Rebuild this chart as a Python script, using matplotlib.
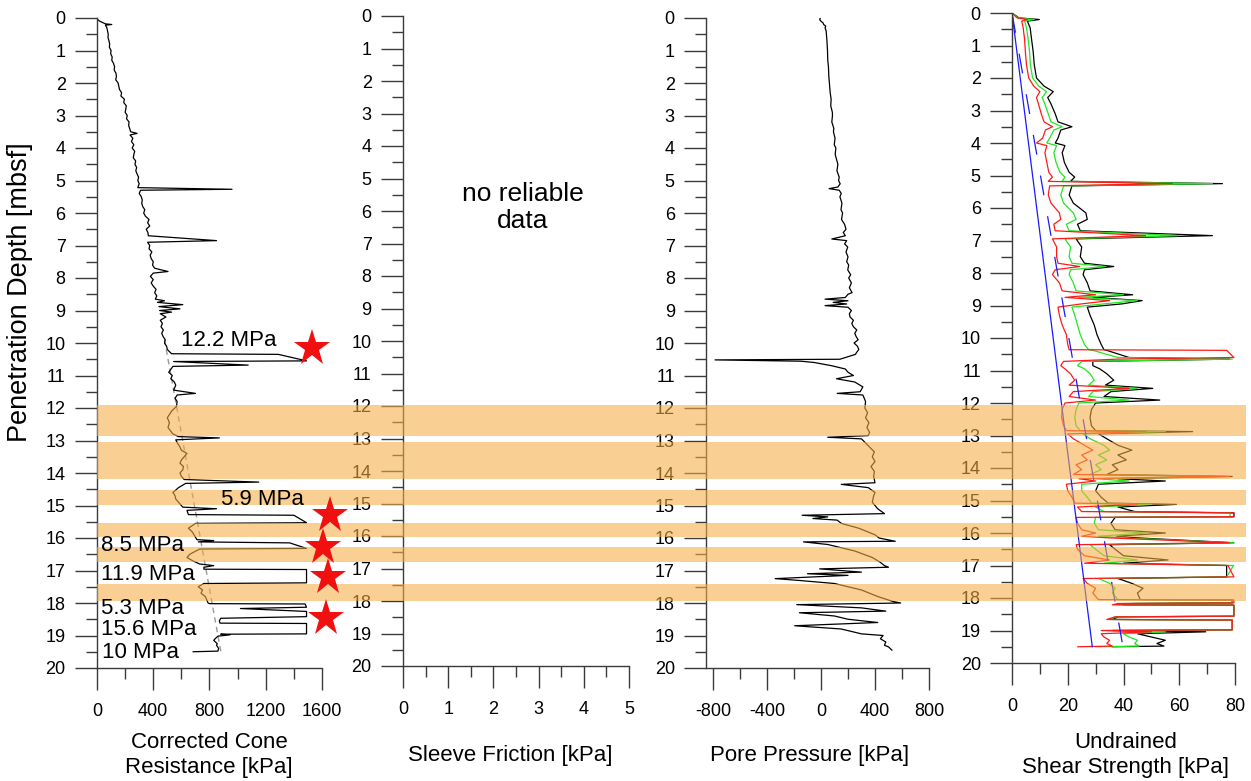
import matplotlib.pyplot as plt
import numpy as np
from matplotlib.patches import Rectangle
from matplotlib.lines import Line2D
from matplotlib.ticker import MultipleLocator
from matplotlib.transforms import blended_transform_factory

plt.rcParams['font.family'] = ['Liberation Sans', 'DejaVu Sans']
plt.rcParams['axes.unicode_minus'] = False

# ---- Corrected cone resistance (depth in m, qt in kPa) ----
qc_depth = [0.0, 0.05, 0.1, 0.15, 0.18, 0.2, 0.22, 0.3, 0.4, 0.5, 0.6, 0.7, 0.8, 0.9, 1.0, 1.1, 1.2,
            1.3, 1.4, 1.5, 1.6, 1.7, 1.8, 1.9, 2.0, 2.1, 2.2, 2.3, 2.4, 2.5, 2.6, 2.7, 2.8, 2.9, 3.0,
            3.1, 3.2, 3.3, 3.4, 3.5, 3.55, 3.6, 3.7, 3.8, 3.9, 4.0, 4.1, 4.2, 4.3, 4.4, 4.5, 4.6, 4.7,
            4.8, 4.9, 5.0, 5.1, 5.22, 5.27, 5.3, 5.4, 5.5, 5.6, 5.7, 5.8, 5.9, 6.0, 6.1, 6.2, 6.3, 6.4,
            6.5, 6.6, 6.7, 6.85, 6.9, 7.0, 7.1, 7.2, 7.3, 7.4, 7.5, 7.6, 7.7, 7.8, 7.85, 7.95, 8.05,
            8.15, 8.25, 8.35, 8.45, 8.55, 8.65, 8.7, 8.75, 8.82, 8.88, 8.95, 9.0, 9.05, 9.1, 9.2, 9.3,
            9.4, 9.5, 9.6, 9.7, 9.8, 9.9, 10.0, 10.1, 10.2, 10.33, 10.35, 10.55, 10.57, 10.68, 10.72,
            10.9, 11.0, 11.1, 11.2, 11.3, 11.45, 11.55, 11.6, 11.7, 11.8, 11.95, 12.1, 12.3, 12.45,
            12.6, 12.8, 12.88, 12.92, 12.98, 13.1, 13.2, 13.3, 13.4, 13.5, 13.6, 13.7, 13.8, 13.9,
            14.0, 14.1, 14.2, 14.28, 14.32, 14.45, 14.6, 14.7, 14.8, 14.95, 15.05, 15.1, 15.15, 15.28,
            15.3, 15.53, 15.55, 15.7, 15.8, 15.9, 16.05, 16.08, 16.12, 16.15, 16.32, 16.34, 16.5,
            16.6, 16.7, 16.8, 16.85, 16.9, 16.96, 16.97, 17.38, 17.4, 17.5, 17.6, 17.7, 17.8, 17.9,
            18.0, 18.02, 18.03, 18.13, 18.17, 18.26, 18.42, 18.47, 18.55, 18.62, 18.63, 18.95, 18.96,
            18.98, 19.02, 19.1, 19.15, 19.25, 19.3, 19.4, 19.48, 19.5]
qc_kpa = [0, 5, 20, 45, 60, 105, 60, 70, 75, 80, 78, 85, 90, 88, 100, 97, 108,
          105, 118, 125, 122, 135, 138, 133, 150, 155, 160, 175, 170, 195, 190, 208, 205, 200, 215,
          210, 228, 225, 232, 240, 285, 235, 255, 245, 262, 250, 268, 262, 258, 275, 270, 282, 276,
          285, 296, 290, 300, 290, 960, 310, 300, 315, 322, 318, 325, 340, 332, 345, 370, 360, 375,
          350, 362, 365, 850, 360, 375, 370, 390, 378, 385, 400, 395, 410, 505, 400, 380, 400,
          385, 400, 420, 410, 425, 415, 480, 430, 610, 440, 590, 445, 530, 450, 490, 450,
          465, 455, 472, 460, 470, 485, 480, 495, 500, 530, 1290, 12200, 545, 1075, 540,
          510, 535, 525, 550, 560, 545, 700, 570, 555, 570, 565, 530, 500, 515,
          505, 540, 580, 870, 560, 575, 590, 600, 640, 620, 600, 590, 615, 610,
          590, 600, 620, 1150, 630, 580, 540, 555, 560, 590, 610, 850, 640, 650,
          1400, 5900, 700, 650, 675, 690, 710, 830, 720, 1370, 8500, 730, 660,
          640, 680, 730, 830, 760, 760, 11900, 11900, 760, 720, 750, 740, 770, 780,
          790, 800, 1480, 5300, 1020, 5300, 5300, 880, 870, 875, 15600, 15600, 880,
          945, 860, 840, 830, 855, 850, 865, 860, 684]
QC_CAP = 1490  # off-scale peaks are cut at this value

qc_trend_depth = [9.9, 19.6]
qc_trend_kpa = [480, 885]

peak_depth = [10.15, 15.29, 16.28, 17.2, 18.46]
peak_qc = [1530, 1657, 1607, 1643, 1628]

label_text = ['12.2 MPa', '5.9 MPa', '8.5 MPa', '11.9 MPa', '5.3 MPa', '15.6 MPa', '10 MPa']
label_depth = [9.92, 14.83, 16.22, 17.11, 18.18, 18.83, 19.51]
label_qc = [600, 885, 25, 25, 25, 25, 35]

# ---- Pore pressure (kPa) ----
u_depth = [0.0, 0.05, 0.1, 0.15, 0.2, 0.25, 0.3, 0.4, 0.5, 0.7, 1.0, 1.3, 1.5, 1.8, 2.0, 2.3, 2.5,
           2.7, 2.9, 3.0, 3.2, 3.4, 3.5, 3.7, 3.9, 4.0, 4.2, 4.4, 4.5, 4.7, 4.9, 5.0, 5.1, 5.2, 5.25,
           5.3, 5.4, 5.5, 5.7, 5.9, 6.0, 6.2, 6.35, 6.5, 6.6, 6.7, 6.8, 6.85, 6.95, 7.05, 7.2, 7.35,
           7.5, 7.6, 7.75, 7.9, 8.0, 8.15, 8.3, 8.45, 8.5, 8.6, 8.65, 8.7, 8.75, 8.8, 8.85, 8.9, 9.0,
           9.1, 9.2, 9.3, 9.4, 9.5, 9.6, 9.7, 9.8, 9.9, 10.0, 10.1, 10.2, 10.3, 10.35, 10.45, 10.5,
           10.52, 10.56, 10.6, 10.7, 10.8, 10.9, 11.0, 11.1, 11.2, 11.35, 11.5, 11.55, 11.6, 11.8,
           12.0, 12.15, 12.3, 12.45, 12.6, 12.75, 12.85, 12.9, 12.95, 13.2, 13.35, 13.5, 13.65,
           13.8, 13.95, 14.1, 14.3, 14.35, 14.45, 14.6, 14.7, 14.9, 15.1, 15.25, 15.3, 15.35, 15.4,
           15.45, 15.55, 15.7, 15.9, 16.0, 16.1, 16.12, 16.2, 16.4, 16.6, 16.75, 16.85, 16.9, 16.95,
           17.05, 17.1, 17.15, 17.25, 17.3, 17.4, 17.6, 17.8, 17.95, 18.0, 18.05, 18.15, 18.25,
           18.3, 18.4, 18.5, 18.6, 18.7, 18.8, 18.9, 18.95, 19.0, 19.1, 19.2, 19.3, 19.35, 19.45]
u_kpa = [-5, -10, 0, 15, 20, 35, 30, 38, 40, 44, 48, 50, 55, 58, 62, 68, 75,
         72, 84, 85, 80, 95, 92, 104, 98, 110, 105, 118, 125, 118, 135, 130, 142, 125, 60,
         135, 150, 140, 155, 148, 160, 152, 175, 185, 165, 180, 80, 190, 175, 198, 185, 200,
         190, 205, 198, 220, 205, 225, 210, 230, 200, 180, 30, 200, 90, 190, 30, 200, 225,
         210, 215, 240, 228, 240, 265, 250, 260, 275, 245, 270, 280, 262, 255, 180, 140,
         -785, -150, -50, 80, 180, 200, 240, 115, 250, 310, 290, 120, 310, 330,
         325, 345, 330, 355, 340, 360, 350, 50, 300, 360, 395, 380, 400,
         370, 395, 390, 400, 150, 350, 400, 390, 380, 420, 470, -140, 50, -60,
         120, 150, 280, 400, 430, 550, -130, 50, 250, 380, 440, 470, 500, -10,
         300, -100, 200, -340, -180, 100, 300, 420, 530, 590, -180, 300, 480,
         -160, 100, 200, 420, -195, 150, 250, 300, 460, 440, 480, 470, 500, 525]

# ---- Undrained shear strength (kPa), three estimates ----
su_depth = [0.0, 0.15, 0.2, 0.25, 0.45, 0.8, 1.2, 1.6, 2.0, 2.25, 2.42, 2.6, 2.8, 3.1, 3.35, 3.5, 3.6,
            3.85, 4.0, 4.08, 4.3, 4.6, 4.9, 5.05, 5.18, 5.25, 5.32, 5.6, 5.85, 6.15, 6.35, 6.5, 6.7,
            6.85, 6.95, 7.2, 7.5, 7.7, 7.8, 7.9, 8.05, 8.3, 8.55, 8.67, 8.75, 8.85, 8.95, 9.05, 9.3,
            9.6, 9.9, 10.2, 10.36, 10.38, 10.6, 10.65, 10.72, 10.85, 10.95, 11.1, 11.3, 11.45, 11.55,
            11.65, 11.8, 11.91, 12.0, 12.2, 12.45, 12.7, 12.85, 12.88, 12.95, 13.1, 13.3, 13.45, 13.6,
            13.75, 13.9, 14.05, 14.2, 14.26, 14.33, 14.4, 14.5, 14.7, 14.9, 15.08, 15.12, 15.2, 15.34,
            15.38, 15.5, 15.52, 15.7, 15.9, 16.0, 16.1, 16.15, 16.3, 16.36, 16.5, 16.7, 16.83, 16.93,
            17.0, 17.35, 17.4, 17.55, 17.7, 17.85, 18.05, 18.06, 18.15, 18.17, 18.21, 18.22, 18.56,
            18.58, 18.66, 18.68, 18.98, 19.0, 19.04, 19.1, 19.2, 19.3, 19.4, 19.48, 19.5]
su_black = [0, 2.5, 9.8, 5.5, 6.5, 7.0, 7.6, 8.0, 8.8, 11.5, 14.8, 12.8, 14.0, 15.5, 16.5, 21.5, 17.5,
            16.5, 15.5, 19.0, 18.0, 18.8, 20.5, 22.5, 21.0, 75.5, 21.5, 20.5, 22.0, 26.5, 27.0, 23.5, 24.5,
            71.9, 23.0, 25.0, 24.5, 26.0, 36.5, 26.0, 25.5, 27.0, 28.0, 43.3, 29.0, 46.7, 39.5, 27.0, 28.0,
            29.5, 30.5, 32.0, 33.0, 34.0, 42.0, 78.0, 29.0, 29.0, 31.5, 34.0, 36.5, 33.5, 50.5,
            35.5, 33.0, 53.0, 30.0, 28.5, 28.0, 28.5, 30.0, 64.8, 31.0, 34.0, 38.0, 43.0, 38.0,
            41.0, 36.0, 38.0, 34.0, 79.0, 38.0, 55.0, 31.0, 30.0, 32.0, 34.5, 59.0, 38.0, 44.0,
            79.6, 79.6, 37.0, 35.5, 37.0, 55.0, 37.5, 45.0, 79.6, 35.0, 37.0, 40.0, 56.0, 40.0,
            77.0, 77.0, 38.0, 43.0, 47.0, 45.0, 46.0, 79.0, 79.0, 43.0, 40.0, 79.6, 79.6,
            38.0, 36.0, 79.0, 79.0, 36.0, 69.5, 45.0, 50.0, 55.0, 52.0, 54.5, 36.0]
su_green = [0, 2.2, 8.0, 4.5, 5.2, 5.8, 6.3, 6.6, 7.4, 9.6, 12.4, 10.8, 11.8, 13.0, 14.0, 18.0, 15.0,
            13.5, 12.5, 16.0, 15.0, 15.8, 17.2, 19.0, 18.0, 71.9, 18.5, 17.5, 18.5, 22.0, 23.0, 19.5, 20.5,
            59.8, 19.0, 21.0, 20.5, 21.5, 33.5, 21.0, 20.5, 22.0, 23.0, 40.0, 24.0, 45.0, 33.0, 21.5, 22.5,
            23.5, 24.5, 26.0, 27.5, 29.0, 38.0, 79.0, 25.0, 23.5, 26.0, 28.0, 29.5, 27.5, 45.0,
            29.0, 27.5, 42.0, 24.0, 23.0, 22.5, 23.0, 24.5, 55.0, 25.5, 28.0, 33.0, 35.0, 31.0,
            34.0, 30.0, 32.0, 28.0, 75.0, 30.0, 42.0, 25.0, 25.0, 27.0, 28.5, 50.0, 30.0, 33.0,
            78.5, 78.0, 30.0, 29.5, 31.0, 48.0, 31.0, 40.0, 79.6, 28.0, 30.0, 33.0, 45.0, 33.0,
            79.5, 77.0, 31.0, 35.0, 37.0, 36.0, 38.0, 79.0, 79.0, 40.0, 38.0, 79.6, 79.6,
            37.0, 35.0, 79.0, 79.0, 34.0, 55.0, 40.0, 42.0, 45.0, 44.0, 45.6, 30.0]
su_red = [0, 1.8, 5.5, 3.5, 4.0, 4.5, 4.8, 5.2, 6.0, 7.8, 10.0, 8.8, 9.5, 10.5, 11.5, 14.5, 12.0,
          11.0, 8.8, 12.5, 11.8, 12.5, 13.2, 14.5, 13.0, 57.5, 13.5, 13.0, 14.0, 17.0, 17.5, 15.0, 15.5,
          47.9, 14.5, 16.0, 16.0, 16.5, 24.3, 15.5, 14.5, 17.0, 18.0, 30.0, 19.0, 35.0, 25.0, 16.5, 17.0,
          18.0, 19.5, 20.0, 20.5, 77.0, 79.6, 38.0, 18.5, 17.5, 19.0, 21.0, 22.5, 20.5, 42.0,
          22.0, 20.5, 30.0, 19.0, 18.0, 17.8, 18.5, 19.5, 48.0, 20.0, 22.0, 26.0, 29.0, 25.0,
          27.0, 23.0, 25.0, 22.0, 78.0, 24.0, 30.0, 19.5, 20.0, 21.5, 22.5, 45.0, 23.5, 25.0,
          79.6, 79.6, 23.0, 23.5, 25.0, 30.0, 25.0, 35.0, 78.0, 23.0, 23.5, 26.0, 35.0, 26.0,
          77.5, 79.6, 25.5, 27.0, 30.0, 29.0, 31.0, 79.6, 79.6, 38.0, 36.0, 79.6, 79.6,
          37.0, 34.0, 79.0, 79.0, 32.0, 50.0, 32.0, 33.0, 35.0, 34.0, 36.0, 23.6]

# reference strength gradients
su_line_depth = [0.0, 19.5]
su_line_a = [0.0, 28.8]
su_line_b = [0.0, 39.8]

# depth intervals highlighted across all panels
band_top = [11.91, 13.04, 14.52, 15.53, 16.29, 17.43]
band_bot = [12.86, 14.20, 14.98, 15.96, 16.73, 17.93]

# ---- Figure ----
W, H = 1251, 781
fig = plt.figure(figsize=(W / 100, H / 100), dpi=100)


def panel(left, top, width, height=650):
    ax = fig.add_axes([left / W, 1 - (top + height) / H, width / W, height / H])
    ax.set_facecolor('none')
    for s in ['top', 'right']:
        ax.spines[s].set_visible(False)
    for s in ['left', 'bottom']:
        ax.spines[s].set_color('#3a3a3a')
        ax.spines[s].set_linewidth(1.0)
    ax.set_ylim(20, 0)
    ax.yaxis.set_major_locator(MultipleLocator(1))
    ax.yaxis.set_minor_locator(MultipleLocator(0.5))
    ax.tick_params(which='both', direction='out', color='#3a3a3a', width=1.0, labelsize=13)
    ax.tick_params(which='major', length=15.5)
    ax.tick_params(which='minor', length=8)
    ax.tick_params(axis='y', pad=7)
    ax.tick_params(axis='x', pad=10)
    return ax


ax1 = panel(97, 18, 225)
ax2 = panel(403, 16, 226)
ax3 = panel(706, 18, 223)
ax4 = panel(1012, 13, 223)

# cone resistance
ax1.set_xlim(0, 1600)
ax1.xaxis.set_major_locator(MultipleLocator(400))
ax1.xaxis.set_minor_locator(MultipleLocator(200))
ax1.plot(qc_trend_kpa, qc_trend_depth, color='#9a9a9a', lw=1.0, ls=(0, (4, 3)))
ax1.plot(np.minimum(qc_kpa, QC_CAP), qc_depth, color='black', lw=0.9)

# sleeve friction
ax2.set_xlim(0, 5)
ax2.xaxis.set_major_locator(MultipleLocator(1))
ax2.xaxis.set_minor_locator(MultipleLocator(0.5))
ax2.text(2.65, 5.9, 'no reliable\ndata', fontsize=19, ha='center', va='center', linespacing=1.15)

# pore pressure
ax3.set_xlim(-852, 800)
ax3.set_xticks([-800, -400, 0, 400, 800])
ax3.xaxis.set_minor_locator(MultipleLocator(200))
ax3.plot(u_kpa, u_depth, color='black', lw=0.9)

# undrained shear strength
ax4.set_xlim(0, 80)
ax4.xaxis.set_major_locator(MultipleLocator(20))
ax4.xaxis.set_minor_locator(MultipleLocator(10))
ax4.plot(su_black, su_depth, color='black', lw=0.9)
ax4.plot(su_green, su_depth, color='#22e622', lw=0.9)
ax4.plot(su_red, su_depth, color='#ff1a1a', lw=0.9)
ax4.plot(su_line_a, su_line_depth, color='#1a1aff', lw=0.9)
ax4.plot(su_line_b, su_line_depth, color='#1a1aff', lw=0.9, ls=(0, (16, 17)))

# translucent bands spanning the full figure width
btrans = blended_transform_factory(fig.transFigure, ax1.transData)
for t, b in zip(band_top, band_bot):
    fig.add_artist(Rectangle((97 / W, t), 1149 / W, b - t, transform=btrans,
                             facecolor='#f5ad45', alpha=0.58, edgecolor='none', zorder=5))

# stars and peak labels sit above the bands
fig.add_artist(Line2D(peak_qc, peak_depth, transform=ax1.transData, ls='none', marker='*',
                      ms=28, color='#f01010', markeredgewidth=0, zorder=6))
for t, d, q in zip(label_text, label_depth, label_qc):
    fig.text(q, d, t, transform=ax1.transData, fontsize=16, ha='left', va='center', zorder=7)

# axis titles
fig.text(20 / W, 1 - 292 / H, 'Penetration Depth [mbsf]', rotation=90, fontsize=19.5,
         ha='center', va='center')
ycap = 1 - 755 / H
fig.text(209 / W, ycap, 'Corrected Cone\nResistance [kPa]', fontsize=16, ha='center', va='center')
fig.text(510 / W, ycap, 'Sleeve Friction [kPa]', fontsize=16, ha='center', va='center')
fig.text(810 / W, ycap, 'Pore Pressure [kPa]', fontsize=16, ha='center', va='center')
fig.text(1126 / W, ycap, 'Undrained\nShear Strength [kPa]', fontsize=16, ha='center', va='center')

fig.savefig('out.png', dpi=100)
